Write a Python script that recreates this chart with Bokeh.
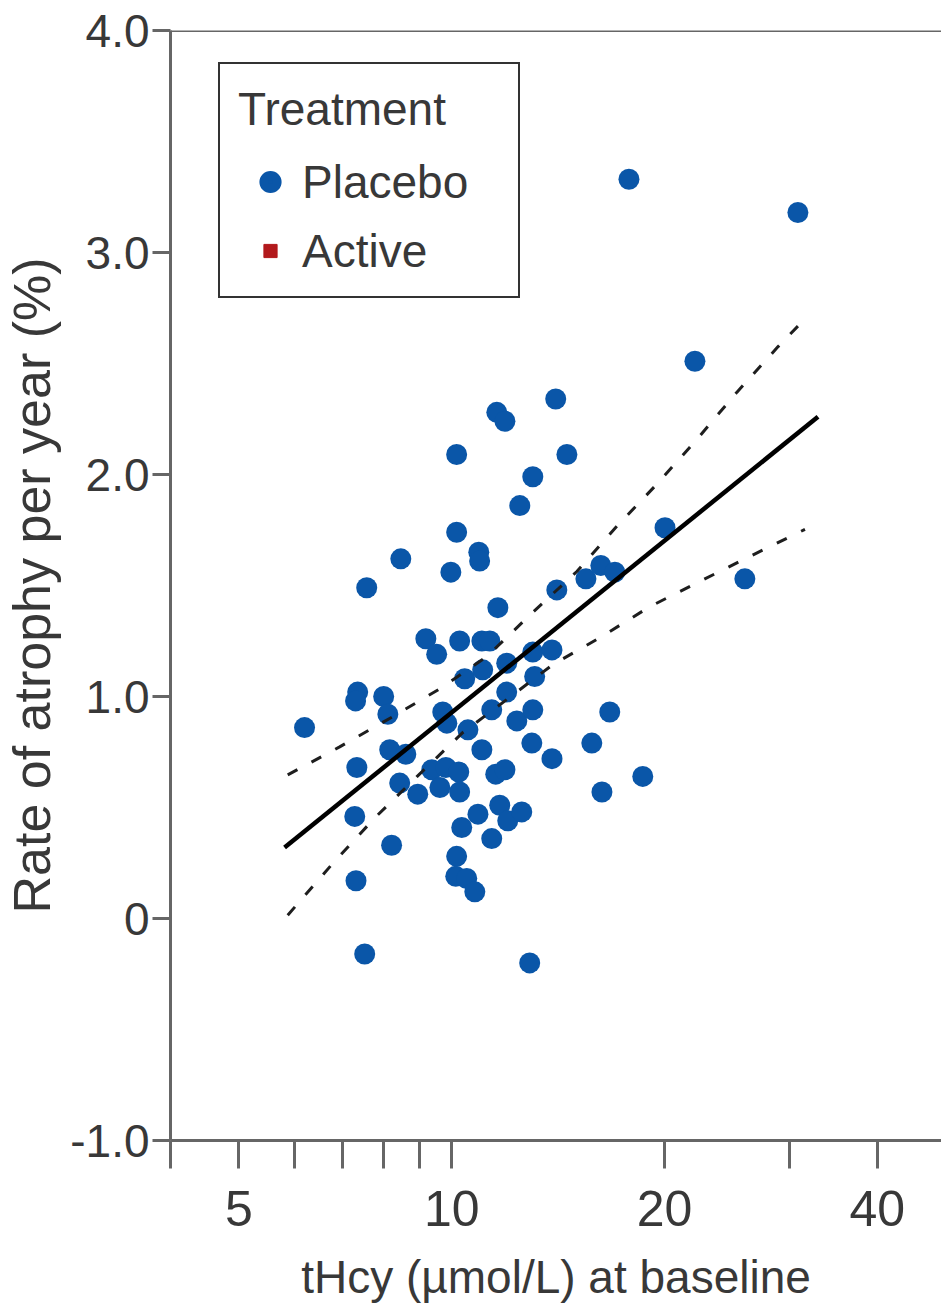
from bokeh.plotting import figure
from bokeh.models import Span, Legend, LegendItem, FixedTicker
from bokeh.embed import file_html
from bokeh.resources import INLINE

# ---------------- data ----------------
placebo_x = [17.81, 30.88, 22.08, 14.03, 11.58, 11.89, 10.16, 14.55, 13.02, 12.48,
             10.16, 20.03, 10.92, 10.95, 8.47, 9.97, 7.58, 14.08, 15.48, 16.25,
             17.01, 25.98, 11.62, 9.19, 9.52, 10.26, 11.03, 11.32, 10.43, 11.06,
             11.96, 13.02, 13.86, 13.10, 11.96, 11.39, 12.36, 13.02, 16.73, 9.71,
             9.84, 10.54, 7.36, 7.31, 8.01, 8.12, 6.19, 8.17, 8.61, 7.34,
             8.44, 8.95, 9.37, 9.81, 10.23, 9.62, 10.26, 11.03, 12.98, 13.86,
             15.78, 11.54, 11.89, 18.63, 16.31, 10.89, 11.69, 12.00, 12.56, 10.33,
             11.39, 7.29, 8.22, 10.16, 10.13, 10.50, 10.78, 7.32, 7.53, 12.89]
placebo_y = [3.33, 3.18, 2.51, 2.34, 2.28, 2.24, 2.09, 2.09, 1.99, 1.86,
             1.74, 1.76, 1.65, 1.61, 1.62, 1.56, 1.49, 1.48, 1.53, 1.59,
             1.56, 1.53, 1.40, 1.26, 1.19, 1.25, 1.25, 1.25, 1.08, 1.12,
             1.15, 1.20, 1.21, 1.09, 1.02, 0.94, 0.89, 0.94, 0.93, 0.93,
             0.88, 0.85, 1.02, 0.98, 1.00, 0.92, 0.86, 0.76, 0.74, 0.68,
             0.61, 0.56, 0.67, 0.68, 0.66, 0.59, 0.57, 0.76, 0.79, 0.72,
             0.79, 0.65, 0.67, 0.64, 0.57, 0.47, 0.51, 0.44, 0.48, 0.41,
             0.36, 0.46, 0.33, 0.28, 0.19, 0.18, 0.12, 0.17, -0.16, -0.20]

# Active group: no points visible in the panel (legend key only)
active_x = [float("nan")]
active_y = [float("nan")]

fit_x = [5.80, 32.97]
fit_y = [0.32, 2.26]

upper_x = [5.86, 6.94, 8.25, 9.68, 11.21, 13.02, 15.03, 17.12, 19.50, 22.23, 25.32, 28.93, 31.40]
upper_y = [0.647, 0.773, 0.909, 1.040, 1.180, 1.379, 1.563, 1.767, 1.956, 2.159, 2.371, 2.575, 2.692]
lower_x = [5.86, 6.76, 7.78, 8.92, 10.36, 11.96, 13.90, 16.20, 19.07, 22.29, 26.41, 31.60]
lower_y = [0.015, 0.242, 0.453, 0.638, 0.837, 0.986, 1.144, 1.265, 1.405, 1.514, 1.631, 1.753]

x_ticks = [4, 5, 6, 7, 8, 9, 10, 20, 30, 40]
x_tick_labels = ["", "5", "", "", "", "", "10", "20", "", "40"]
y_ticks = [-1, 0, 1, 2, 3, 4]
y_tick_labels = ["-1.0", "0", "1.0", "2.0", "3.0", "4.0"]

x_label = "tHcy (\u00b5mol/L) at baseline"
y_label = "Rate of atrophy per year (%)"
legend_title = "Treatment"
series_names = ["Placebo", "Active"]

# ---------------- style ----------------
FONT = "Liberation Sans"
BLUE = "#0a56a8"
RED = "#b2191c"
AXIS = "#666666"
TEXT = "#383838"

p = figure(width=941, height=1312, x_axis_type="log",
           x_range=(4, 49.3), y_range=(-1, 4),
           output_backend="svg", toolbar_location=None,
           min_border_left=170, min_border_right=0,
           min_border_top=30, min_border_bottom=172)
p.outline_line_color = None
p.xgrid.visible = False
p.ygrid.visible = False
p.background_fill_color = "white"
p.border_fill_color = "white"

# points
p.scatter(placebo_x, placebo_y, marker="circle", size=21,
          fill_color=BLUE, line_color=None)

# regression line and confidence band
p.line(fit_x, fit_y, line_color="black", line_width=4.5)
p.line(upper_x, upper_y, line_color="#1e1e1e", line_width=3, line_dash="11 16")
p.line(lower_x, lower_y, line_color="#1e1e1e", line_width=3, line_dash="11 16")

# top spine
p.add_layout(Span(location=4, dimension="width", line_color=AXIS, line_width=3))

# x axis
xa = p.xaxis[0]
xa.ticker = FixedTicker(ticks=x_ticks, minor_ticks=[])
xa.major_label_overrides = dict(zip(x_ticks, x_tick_labels))
xa.axis_line_color = AXIS
xa.axis_line_width = 3
xa.major_tick_line_color = AXIS
xa.major_tick_line_width = 3
xa.major_tick_out = 28
xa.major_tick_in = 0
xa.minor_tick_out = 0
xa.minor_tick_in = 0
xa.major_label_standoff = 22
xa.major_label_text_font = FONT
xa.major_label_text_font_size = "50px"
xa.major_label_text_color = TEXT
xa.axis_label = x_label
xa.axis_label_text_font = FONT
xa.axis_label_text_font_size = "46px"
xa.axis_label_text_font_style = "normal"
xa.axis_label_text_color = TEXT
xa.axis_label_standoff = 22

# y axis
ya = p.yaxis[0]
ya.ticker = FixedTicker(ticks=y_ticks, minor_ticks=[])
ya.major_label_overrides = dict(zip(y_ticks, y_tick_labels))
ya.axis_line_color = AXIS
ya.axis_line_width = 3
ya.major_tick_line_color = AXIS
ya.major_tick_line_width = 3
ya.major_tick_out = 18
ya.major_tick_in = 0
ya.minor_tick_out = 0
ya.minor_tick_in = 0
ya.major_label_standoff = 3
ya.major_label_text_font = FONT
ya.major_label_text_font_size = "46px"
ya.major_label_text_color = TEXT
ya.axis_label = y_label
ya.axis_label_text_font = FONT
ya.axis_label_text_font_size = "52px"
ya.axis_label_text_font_style = "normal"
ya.axis_label_text_color = TEXT
ya.axis_label_standoff = 6

# legend keys
r_p = p.scatter(x=active_x, y=active_y, marker="circle", size=13, fill_color=BLUE,
                line_color=BLUE, line_width=9)
r_a = p.scatter(x=active_x, y=active_y, marker="square", size=13, fill_color=RED,
                line_color=RED, line_width=1)
legend = Legend(items=[LegendItem(label=series_names[0], renderers=[r_p], index=0),
                       LegendItem(label=series_names[1], renderers=[r_a], index=0)],
                title=legend_title, location=(48, 842), margin=0,
                glyph_width=64, glyph_height=33, label_height=55, label_width=198,
                label_standoff=0, padding=18, spacing=14, title_standoff=18,
                label_text_font=FONT, label_text_font_size="46px",
                label_text_color=TEXT,
                title_text_font=FONT, title_text_font_size="46px",
                title_text_font_style="normal", title_text_color=TEXT,
                border_line_color="#333333", border_line_width=2.5,
                border_line_alpha=1.0,
                background_fill_color="white", background_fill_alpha=1.0)
p.add_layout(legend)

open("out.html", "w").write(file_html(p, INLINE))
